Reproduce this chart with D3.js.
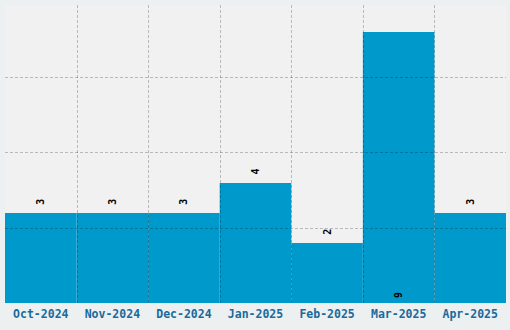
<!DOCTYPE html>
<html>
<head>
<meta charset="utf-8">
<script src="https://cdn.jsdelivr.net/npm/d3@7"></script>
<style>
body { margin:0; background:#edf0f0; }
.xlab { font-family:"DejaVu Sans Mono", monospace; font-weight:bold; font-size:11.5px; fill:#1a6a9c; }
.val { font-family:"DejaVu Sans Mono", monospace; font-weight:bold; font-size:10px; fill:#000; }
</style>
</head>
<body>
<div id="chart"></div>
<script>
var months = ["Oct-2024","Nov-2024","Dec-2024","Jan-2025","Feb-2025","Mar-2025","Apr-2025"];
var counts = [3,3,3,4,2,9,3];
var yTicks = [2.5,5,7.5];

var width = 510, height = 330;
var plotLeft = 5, plotRight = 506, plotTop = 5, plotBottom = 303;

var svg = d3.select("#chart").append("svg")
    .attr("width", width)
    .attr("height", height);

var xScale = d3.scaleBand()
    .domain(months)
    .range([plotLeft, plotRight])
    .padding(0);

var yScale = d3.scaleLinear()
    .domain([0, 9.9])
    .range([plotBottom, plotTop]);

svg.append("rect")
    .attr("x", plotLeft).attr("y", plotTop)
    .attr("width", plotRight-plotLeft).attr("height", plotBottom-plotTop)
    .attr("fill", "#f1f1f1");

svg.selectAll(".bar")
    .data(counts)
    .enter().append("rect")
    .attr("class","bar")
    .attr("x", function(d,i){ return xScale(months[i]); })
    .attr("y", function(d){ return Math.round(yScale(d)); })
    .attr("width", xScale.bandwidth())
    .attr("height", function(d){ return plotBottom - Math.round(yScale(d)); })
    .attr("fill", "#0099cc");

// grid on top of bars
var grid = svg.append("g")
    .attr("stroke","#000")
    .attr("stroke-opacity",0.23)
    .attr("stroke-dasharray","3,2");

grid.selectAll(".h").data(yTicks).enter().append("line")
    .attr("x1", plotLeft).attr("x2", plotRight)
    .attr("y1", function(d){ return Math.round(yScale(d))+0.5; })
    .attr("y2", function(d){ return Math.round(yScale(d))+0.5; });

grid.selectAll(".v").data(months.slice(1)).enter().append("line")
    .attr("y1", plotTop).attr("y2", plotBottom)
    .attr("x1", function(d){ return Math.round(xScale(d))+0.5; })
    .attr("x2", function(d){ return Math.round(xScale(d))+0.5; });

// value labels
svg.selectAll(".val")
    .data(counts)
    .enter().append("text")
    .attr("class","val")
    .attr("text-anchor","middle")
    .attr("dominant-baseline","central")
    .attr("transform", function(d,i){
        var cx = xScale(months[i]) + xScale.bandwidth()/2;
        var cy = d >= 9 ? plotBottom - 8 : yScale(d) - 11;
        return "translate(" + cx + "," + cy + ") rotate(-90)";
    })
    .text(function(d){ return d; });

var xAxis = svg.append("g")
    .attr("transform","translate(0," + plotBottom + ")")
    .call(d3.axisBottom(xScale).tickSize(0).tickPadding(7));
xAxis.select(".domain").remove();
xAxis.selectAll("text").attr("class","xlab").attr("font-family",null).attr("font-size",null).attr("fill",null);
</script>
</body>
</html>
